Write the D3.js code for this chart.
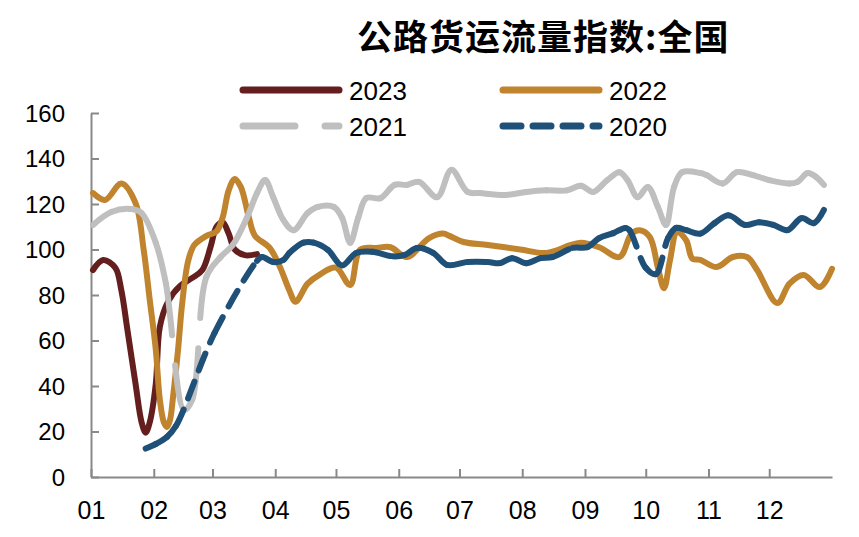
<!DOCTYPE html>
<html><head><meta charset="utf-8">
<script src="https://cdn.jsdelivr.net/npm/d3@7"></script>
<style>html,body{margin:0;padding:0;background:#fff;} svg{display:block;}</style>
</head><body>
<svg id="chart" width="859" height="537"></svg>
<script>
const titleText = "公路货运流量指数:全国";
const monthLabels = ["01","02","03","04","05","06","07","08","09","10","11","12"];
const monthStartDays = [0,31,60,91,121,152,182,213,244,274,305,335];
const yTicks = [0,20,40,60,80,100,120,140,160];
const seriesNames = ["2023","2022","2021","2020"];

const days2023 = [1,6,12,15,18,22,25,27,29,32,34,38,44,50,55,59,62,65,68,71,76,82];
const values2023 = [91,95.4,92,82,64.6,41,24,19.5,24,41,66,77,84,87.5,91,101,110,112,107,100,97.5,98];

const days2022 = [1,7,15,22,26,29,32,34,36,37.5,39,40.5,43,45,48,51,57,62,65,68,71,74,78,81,88,93,98,101,107,113,121,128,133,141,148,156,167,174,177,184,196,212,225,237,242,251,261,267,271,276,280,283,286,289.5,294,297,301,309,317,324,329,339,345,352,360,366];
const values2022 = [124.8,121.8,129,120.4,100,78,56,34,24,22,25,35,56,76,95,102,106,108,114,126,131,127.5,114,106,101,93,82,77,85,89,92,84.4,100,100.7,101,96.7,105,107,106,103.3,102,100,98.5,102,103,101,96.7,107,108.5,105.5,92,83,95.4,107.7,104,96,95.4,92.3,96.7,96.7,91,76.5,85,88.8,83.5,91.5];

const days2021 = [1,10,20,25,32,37,46,50,57,64,70,77,82,86,90,95,100,107,112,120,124,128,132,136,143,150,156,162,171,178,186,192,205,215,225,235,242,248,255,261,265,270,275,280,284,288,292,301,304,312,319,327,335,345,349,354,358,362];
const values2021 = [110.8,116.5,117.8,116,103,85,29.5,34,88,96.7,102,114,124.8,130.5,123,113,108.5,116,118.7,118.7,114,103,114,122.6,122.6,128.4,128.4,129.7,123,135,125.3,124.8,124,125.3,126,126,128,125.3,130.5,134,130.5,123,127.5,118.7,110.8,127.5,134,133.6,132.7,129,134,132.7,130.5,129,129.7,133.6,132,128.4];

const days2020 = [27,32,37.5,42,61,82,84.5,90,95,98,105,110,117,124,131,139,149,155,161,169,176,186,196,202,208,215,222,228,238,245,251,258,264,266,274,279,285,289,294,301,308,315,323,330,337,344,351,357,362];
const values2020 = [12.5,14.5,17.6,22.5,63.3,95,96.7,94.5,95.4,98.5,103,103,99.8,93,98.5,99,97,97.6,100.7,98.5,93.2,94.5,94.5,94,96.2,94,96.2,96.7,100.7,101,105,107.2,109.5,108.5,92,89.2,105,109.5,108.5,107,111.6,115,110.8,112,110.8,108.5,113.8,111.6,117.4];

const seriesColors = ["#651E1E","#C0832E","#BFBFBF","#1F5078"];
const seriesDash = [null,null,[52,30],[18,12]];

const svg = d3.select("#chart");
const x = d3.scaleLinear().domain([0,366]).range([91,832]);
const y = d3.scaleLinear().domain([0,160]).range([477,113]);

// Title
svg.append("text").attr("x",357).attr("y",50)
  .attr("font-family","'Noto Sans CJK SC', sans-serif").attr("font-weight","bold")
  .attr("font-size",35).attr("letter-spacing",1).attr("fill","#000").text(titleText);

// Axes
const axisColor = "#898989";
const gy = svg.append("g").attr("transform","translate(91,0)")
  .call(d3.axisLeft(y).tickValues(yTicks).tickSizeInner(-8).tickSizeOuter(0).tickPadding(26));
const gx = svg.append("g").attr("transform","translate(0,477)")
  .call(d3.axisBottom(x).tickValues(monthStartDays).tickFormat((d,i)=>monthLabels[i])
    .tickSizeInner(-8).tickSizeOuter(0).tickPadding(24));
[gy,gx].forEach(g=>{
  g.select(".domain").attr("stroke",axisColor).attr("stroke-width",2);
  g.selectAll(".tick line").attr("stroke",axisColor).attr("stroke-width",2);
  g.selectAll(".tick text").attr("fill","#000").attr("font-family","'Liberation Sans', Arial, sans-serif");
});
gy.selectAll(".tick text").attr("font-size",24).attr("dy","0.34em");
gx.selectAll(".tick text").attr("font-size",25);

// Segment-wise path generation (dash restarts at every data point, like the source)
function segmentPaths(pts){
  const segs=[]; let cx=0, cy=0;
  const ctx = {
    moveTo(a,b){cx=a;cy=b;},
    lineTo(a,b){segs.push(`M${cx},${cy}L${a},${b}`);cx=a;cy=b;},
    bezierCurveTo(a,b,c,d,e,f){segs.push(`M${cx},${cy}C${a},${b},${c},${d},${e},${f}`);cx=e;cy=f;},
    closePath(){}
  };
  d3.line().x(d=>x(d[0])).y(d=>y(d[1])).curve(d3.curveCatmullRom.alpha(0.5)).context(ctx)(pts);
  return segs;
}

const allDays = [days2023,days2022,days2021,days2020];
const allValues = [values2023,values2022,values2021,values2020];
const lineW = 6;
allDays.forEach((ds,i)=>{
  const pts = ds.map((d,j)=>[d,allValues[i][j]]);
  const g = svg.append("g");
  if(!seriesDash[i]){
    g.append("path")
      .attr("d", d3.line().x(d=>x(d[0])).y(d=>y(d[1])).curve(d3.curveCatmullRom.alpha(0.5))(pts))
      .attr("fill","none").attr("stroke",seriesColors[i]).attr("stroke-width",lineW)
      .attr("stroke-linecap","round").attr("stroke-linejoin","round");
  } else {
    g.selectAll("path").data(segmentPaths(pts)).join("path")
      .attr("d",d=>d).attr("fill","none").attr("stroke",seriesColors[i]).attr("stroke-width",lineW)
      .attr("stroke-linecap","round").attr("stroke-dasharray",seriesDash[i].join(","));
  }
});

// Legend
const legendPos = [[243,90],[503,90],[243,126],[503,126]];
seriesNames.forEach((name,i)=>{
  const [lx,ly] = legendPos[i];
  svg.append("line").attr("x1",lx).attr("x2",lx+96).attr("y1",ly).attr("y2",ly)
    .attr("stroke",seriesColors[i]).attr("stroke-width",7).attr("stroke-linecap","round")
    .attr("stroke-dasharray",seriesDash[i]?seriesDash[i].join(","):null);
  svg.append("text").attr("x",lx+106).attr("y",ly+10)
    .attr("font-family","'Liberation Sans', Arial, sans-serif").attr("font-size",26)
    .attr("fill","#000").text(name);
});
</script>
</body></html>
